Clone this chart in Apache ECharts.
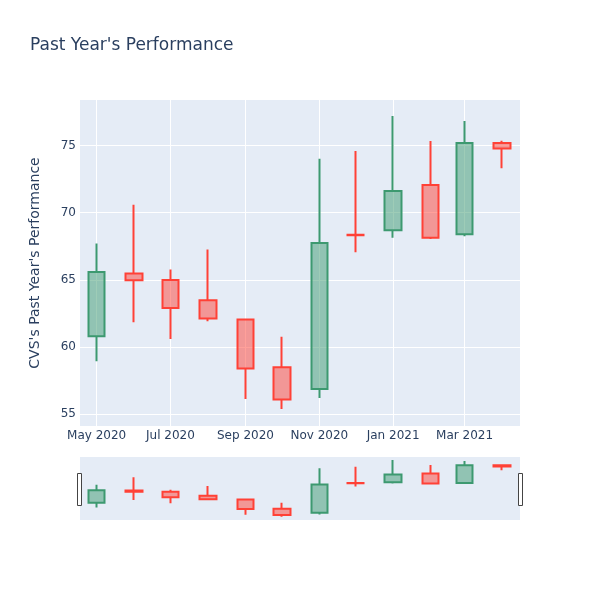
<!DOCTYPE html>
<html>
<head>
<meta charset="utf-8">
<script src="https://cdn.jsdelivr.net/npm/echarts@6/dist/echarts.min.js"></script>
<style>html,body{margin:0;padding:0;background:#fff}#c{width:600px;height:600px}</style>
</head>
<body>
<div id="c"></div>
<script>
// Monthly candles (year, month index)
var months = [[2020,4],[2020,5],[2020,6],[2020,7],[2020,8],[2020,9],[2020,10],[2020,11],[2021,0],[2021,1],[2021,2],[2021,3]];
var opens  = [60.79, 65.46, 64.99, 63.47, 62.03, 58.48, 56.86, 68.36, 68.69, 72.07, 68.39, 75.20];
var closes = [65.58, 64.96, 62.90, 62.11, 58.38, 56.07, 67.75, 68.32, 71.62, 68.14, 75.20, 74.78];
var lows   = [58.93, 61.83, 60.59, 61.91, 56.12, 55.37, 56.19, 67.05, 68.14, 68.04, 68.24, 73.31];
var highs  = [67.70, 70.60, 65.76, 67.25, 62.05, 60.76, 74.03, 74.60, 77.21, 75.35, 76.84, 75.37];
var yTicks = [55, 60, 65, 70, 75];
var xTickMonths = [[2020,4],[2020,6],[2020,8],[2020,10],[2021,0],[2021,2]];
var monthNames = ['Jan','Feb','Mar','Apr','May','Jun','Jul','Aug','Sep','Oct','Nov','Dec'];

var data = months.map(function (m, i) {
  return [new Date(m[0], m[1], 1).getTime(), opens[i], closes[i], lows[i], highs[i]];
});
var xTicks = xTickMonths.map(function (m) { return new Date(m[0], m[1], 1).getTime(); });
var xMin = new Date(2020, 3, 17, 6).getTime();
var xMax = new Date(2021, 3, 15, 20).getTime();
var yMin = 54.1, yMax = 78.4;

var FONT = '"DejaVu Sans", sans-serif';
var TXT = '#2a3f5f';
var style = {
  color: 'rgba(61,153,112,0.5)',
  color0: 'rgba(255,65,54,0.5)',
  borderColor: '#3D9970',
  borderColor0: '#FF4136',
  borderWidth: 2
};

var chart = echarts.init(document.getElementById('c'), null, {renderer: 'canvas'});
chart.setOption({
  animation: false,
  backgroundColor: '#fff',
  textStyle: {fontFamily: FONT},
  title: {
    text: "Past Year's Performance",
    left: 25, top: 32,
    textStyle: {fontFamily: FONT, fontSize: 17, fontWeight: 'normal', color: TXT}
  },
  grid: [
    {left: 80, right: 80, top: 100, height: 326, show: true, backgroundColor: '#E5ECF6', borderWidth: 0},
    {left: 80, right: 80, top: 457, height: 63, show: true, backgroundColor: '#E5ECF6', borderWidth: 0}
  ],
  xAxis: [
    {
      type: 'value', gridIndex: 0, min: xMin, max: xMax, scale: true,
      axisLine: {show: false}, axisTick: {show: false, customValues: xTicks},
      splitLine: {show: true, lineStyle: {color: '#fff', width: 1}},
      axisLabel: {
        customValues: xTicks, color: TXT, fontSize: 12, fontFamily: FONT, margin: 4,
        formatter: function (v) { var d = new Date(v); return monthNames[d.getMonth()] + ' ' + d.getFullYear(); }
      }
    },
    {
      type: 'value', gridIndex: 1, min: xMin, max: xMax, scale: true, show: false,
      splitLine: {show: false}
    }
  ],
  yAxis: [
    {
      type: 'value', gridIndex: 0, min: yMin, max: yMax, scale: true,
      name: "CVS's Past Year's Performance", nameLocation: 'middle', nameGap: 38,
      nameTextStyle: {color: TXT, fontSize: 14, fontFamily: FONT},
      axisLine: {show: false}, axisTick: {show: false, customValues: yTicks},
      splitLine: {show: true, lineStyle: {color: '#fff', width: 1}},
      axisLabel: {customValues: yTicks, color: TXT, fontSize: 12, fontFamily: FONT, margin: 4}
    },
    {
      type: 'value', gridIndex: 1, min: yMin, max: yMax, scale: true, show: false,
      splitLine: {show: false}
    }
  ],
  series: [
    {type: 'candlestick', xAxisIndex: 0, yAxisIndex: 0, data: data, barWidth: 17, itemStyle: style},
    {type: 'candlestick', xAxisIndex: 1, yAxisIndex: 1, data: data, barWidth: 17, itemStyle: style, silent: true}
  ],
  graphic: [
    {type: 'rect', shape: {x: 77.5, y: 473.5, width: 4, height: 32}, style: {fill: '#fff', stroke: '#444', lineWidth: 1}},
    {type: 'rect', shape: {x: 518.5, y: 473.5, width: 4, height: 32}, style: {fill: '#fff', stroke: '#444', lineWidth: 1}}
  ]
});
</script>
</body>
</html>
